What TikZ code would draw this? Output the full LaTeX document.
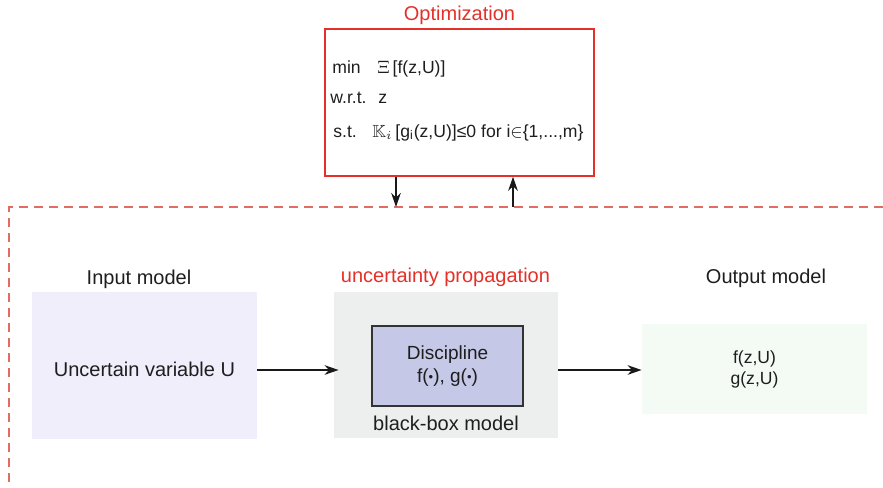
\documentclass[tikz,border=0pt]{standalone}
\usepackage{fontspec}
\usepackage{amsmath}
\usepackage{amssymb}
\setmainfont{Liberation Sans}
\usetikzlibrary{shapes,arrows.meta,positioning,calc}
\definecolor{optred}{RGB}{228,48,40}
\definecolor{dashred}{RGB}{226,108,98}
\definecolor{inputlav}{RGB}{240,238,251}
\definecolor{propgray}{RGB}{237,239,239}
\definecolor{discblue}{RGB}{197,200,230}
\definecolor{outgreen}{RGB}{244,251,244}
\definecolor{textdark}{RGB}{30,30,30}
\newcommand{\argdot}{\raisebox{0.6pt}{\fontsize{6.5}{6.5}\selectfont•}}

\begin{document}
\begin{tikzpicture}[x=0.5pt, y=-0.5pt, >={Stealth[length=7pt,width=4.8pt,inset=2.2pt]}, text=textdark,
    font=\fontsize{10}{12}\selectfont,
    modelbox/.style={minimum width=112.5pt, minimum height=73.5pt, inner sep=0pt},
    redlabel/.style={text=optred},
    optline/.style={anchor=base west, inner sep=0pt, font=\fontsize{8.8}{10}\selectfont},
    flow/.style={->, line width=0.9pt, black!90}]
        \useasboundingbox (0,0) rectangle (883,487);

        % Optimization problem
        \node[draw=optred, line width=0.75pt, minimum width=134.5pt, minimum height=73.5pt] at (459.5,102.5) (opt) {};
        \node[redlabel] at (459.5,15) (optlbl) {Optimization};
        \node[optline] at (332,73) (minlbl) {min};
        \node[optline] at (377,73) (minexpr) {$\Xi$\,[f(z,U)]};
        \node[optline] at (330,103) (wrtlbl) {w.r.t.};
        \node[optline] at (378,103) (wrtexpr) {z};
        \node[optline] at (333,137) (stlbl) {s.t.};
        \node[optline] at (372,137) (stexpr) {$\mathbb{K}_i$\,[g\textsubscript{i}(z,U)]≤0 for i$\in$\{1,...,m\}};

        % Dashed frame
        \draw[dashred, line width=0.6pt, dash pattern=on 4.5pt off 3pt] (883,207) -- (9,207) -- (9,487);
        \coordinate (dn) at (396,207);
        \coordinate (up) at (513,207);
        \draw[flow, line width=0.75pt] (opt.south -| dn) -- (dn);
        \draw[flow, line width=0.75pt] (up) -- (opt.south -| up);

        % Input model
        \node[modelbox, fill=inputlav, text height=11.5pt] at (144.5,365.5) (inbox) {Uncertain variable U};
        \node at (139,279) (inlbl) {Input model};

        % Uncertainty propagation
        \node[modelbox, fill=propgray, minimum width=112pt, minimum height=73pt] at (446,365) (prop) {};
        \node[redlabel] at (445.5,277) (proplbl) {uncertainty propagation};
        \node[draw=black!80, line width=0.75pt, fill=discblue, minimum width=75.5pt, minimum height=40pt, align=center, font=\fontsize{9.5}{11.5}\selectfont] at (447.5,366) (disc) {Discipline\\f(\argdot), g(\argdot)};
        \node at (446,423) (bblbl) {black-box model};

        % Output model
        \node[modelbox, fill=outgreen, minimum width=112.5pt, minimum height=45pt, align=center, font=\fontsize{8.8}{10.5}\selectfont] at (754.5,369) (outbox) {f(z,U)\\g(z,U)};
        \node at (766,278) (outlbl) {Output model};

        \coordinate (flowy) at (0,370);
        \draw[flow] (inbox.east |- flowy) -- ([xshift=2.5pt]prop.west |- flowy);
        \draw[flow] (prop.east |- flowy) -- (outbox.west |- flowy);

    \end{tikzpicture}
\end{document}
